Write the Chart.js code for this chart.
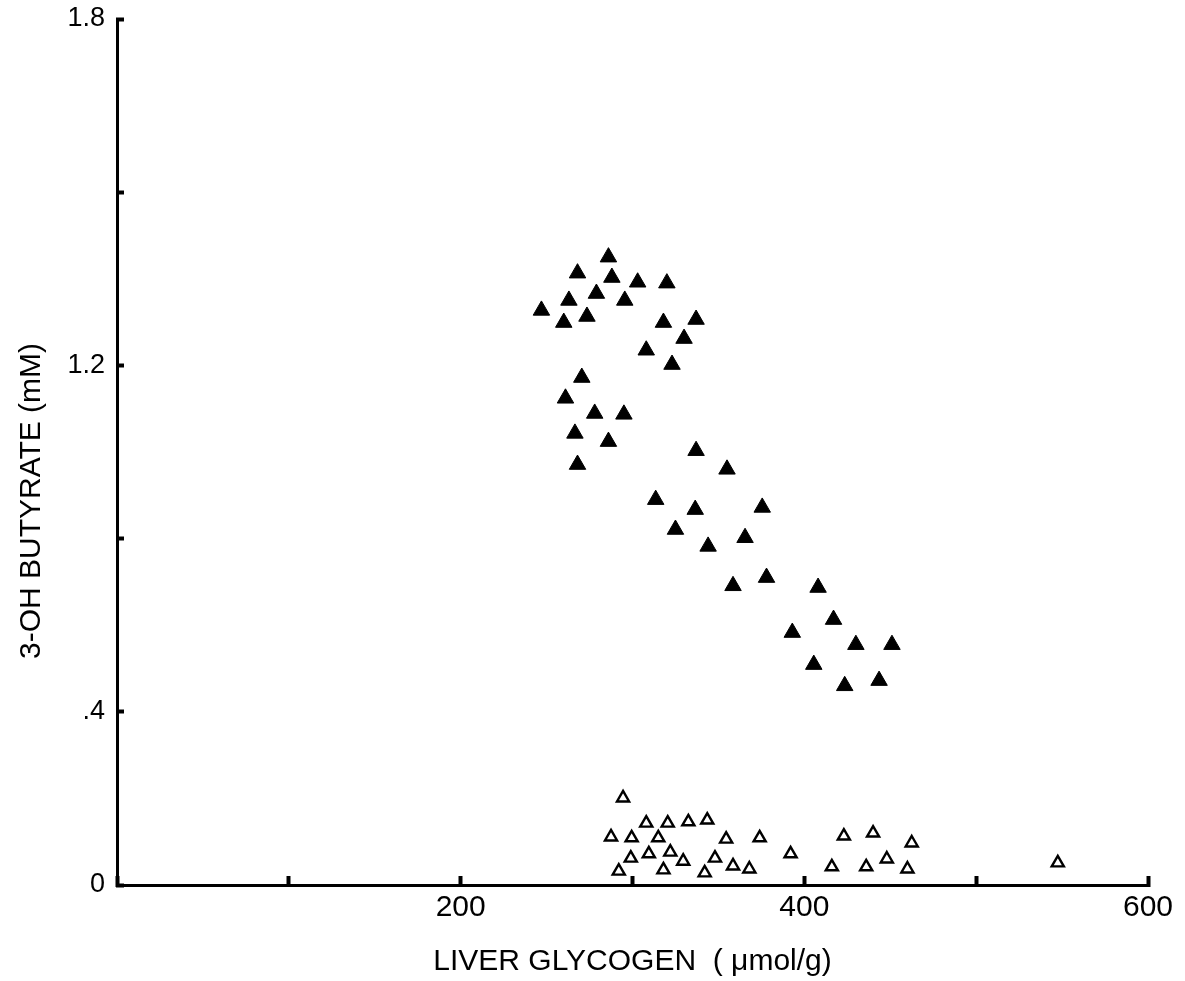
<!DOCTYPE html>
<html>
<head>
<meta charset="utf-8">
<script src="https://cdn.jsdelivr.net/npm/chart.js@4/dist/chart.umd.min.js"></script>
<style>
  html, body { margin: 0; padding: 0; background: #fff; }
  #wrap { width: 1185px; height: 981px; position: relative; }
</style>
</head>
<body>
<div id="wrap"><canvas id="c"></canvas></div>
<script>
// Filled triangles
const filledX = [247, 260, 263, 268, 273.5, 279, 286, 288, 295.5, 303, 320, 318, 308, 323, 330, 337,
                 270.5, 261, 278, 295, 266.5, 286, 268, 337, 313.5, 355, 336.5, 325, 375.5, 344,
                 365.5, 358.5, 378, 408, 417, 393, 405.5, 430, 451, 423.5, 443.5];
const filledY = [1.327, 1.299, 1.350, 1.413, 1.313, 1.366, 1.450, 1.403, 1.350, 1.392, 1.390, 1.299,
                 1.235, 1.202, 1.262, 1.306, 1.172, 1.124, 1.089, 1.087, 1.043, 1.024, 0.971, 1.003,
                 0.890, 0.960, 0.867, 0.821, 0.872, 0.782, 0.802, 0.691, 0.710, 0.687, 0.613, 0.583,
                 0.509, 0.555, 0.555, 0.460, 0.472];
// Open triangles
const openX = [294.5, 287.5, 299.5, 308, 315, 320.5, 332.5, 343.5, 354.5, 374, 423, 440, 462.5,
               299, 309.5, 322, 329.5, 348, 392, 448, 292, 318, 342, 358.5, 368, 416, 436, 460, 547.5];
const openY = [0.201, 0.111, 0.109, 0.143, 0.109, 0.143, 0.146, 0.150, 0.106, 0.109, 0.113, 0.120, 0.097,
               0.062, 0.072, 0.076, 0.055, 0.062, 0.072, 0.060, 0.032, 0.035, 0.028, 0.044, 0.037,
               0.042, 0.042, 0.037, 0.051];

const xTickLabels = ['', '', '200', '', '400', '', '600'];
const yTickLabels = ['0', '.4', '', '1.2', '', '1.8'];
const xTitle = 'LIVER GLYCOGEN  ( μmol/g)';
const yTitle = '3-OH BUTYRATE (mM)';

const FONT = "'Liberation Sans', Arial, Helvetica, sans-serif";

const toPts = (xs, ys) => xs.map((x, i) => ({ x: x, y: ys[i] }));

const yTitlePlugin = {
  id: 'yTitle',
  afterDraw(chart) {
    const ctx = chart.ctx;
    ctx.save();
    ctx.translate(32, 501);
    ctx.rotate(-Math.PI / 2);
    ctx.font = '30px ' + FONT;
    ctx.fillStyle = '#000';
    ctx.textAlign = 'center';
    ctx.textBaseline = 'middle';
    ctx.fillText(yTitle, 0, 0);
    ctx.restore();
  }
};

new Chart(document.getElementById('c'), {
  type: 'scatter',
  data: {
    datasets: [
      {
        data: toPts(filledX, filledY),
        pointStyle: 'triangle',
        pointRadius: 9.5,
        backgroundColor: '#000',
        borderColor: '#000',
        borderWidth: 1
      },
      {
        data: toPts(openX, openY),
        pointStyle: 'triangle',
        pointRadius: 7,
        backgroundColor: '#fff',
        borderColor: '#000',
        borderWidth: 2.4
      }
    ]
  },
  options: {
    responsive: true,
    maintainAspectRatio: false,
    animation: false,
    events: [],
    layout: { padding: { top: 19, right: 37, left: 0, bottom: 0 } },
    plugins: { legend: { display: false }, tooltip: { enabled: false } },
    scales: {
      x: {
        type: 'linear',
        min: 0, max: 600,
        afterFit(s) { s.height = 96; s.paddingLeft = 0; s.paddingRight = 0; },
        border: { display: true, color: '#000', width: 3 },
        grid: { drawOnChartArea: false, drawTicks: true, tickLength: -9, tickWidth: 4, tickColor: '#000' },
        ticks: {
          stepSize: 100, autoSkip: false, maxRotation: 0, padding: 14,
          color: '#000', font: { family: FONT, size: 30 },
          callback: (v, i) => xTickLabels[i]
        },
        title: {
          display: true, text: xTitle, color: '#000',
          font: { family: FONT, size: 30 }, padding: { top: 0, bottom: 1 }
        }
      },
      y: {
        type: 'linear',
        min: 0, max: 2.0,
        afterFit(s) { s.width = 117; s.paddingTop = 0; s.paddingBottom = 0; },
        border: { display: true, color: '#000', width: 3 },
        grid: { drawOnChartArea: false, drawTicks: true, tickLength: -7, tickWidth: 4, tickColor: '#000' },
        ticks: {
          stepSize: 0.4, autoSkip: false, padding: 19,
          color: '#000', font: { family: FONT, size: 27 },
          callback: (v, i) => yTickLabels[i]
        },
        title: { display: false }
      }
    }
  },
  plugins: [yTitlePlugin]
});
</script>
</body>
</html>
